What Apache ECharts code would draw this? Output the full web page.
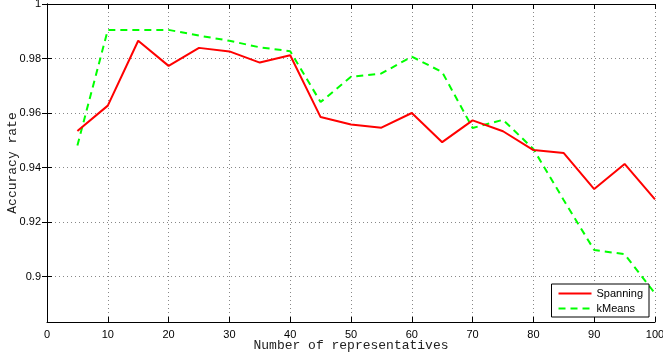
<!DOCTYPE html>
<html>
<head>
<meta charset="utf-8">
<script src="https://cdn.jsdelivr.net/npm/echarts@6/dist/echarts.min.js"></script>
<style>html,body{margin:0;padding:0;background:#fff}#c{width:663px;height:360px}</style>
</head>
<body>
<div id="c"></div>
<script>
var representatives = [5,10,15,20,25,30,35,40,45,50,55,60,65,70,75,80,85,90,95,100];
var spanning = [0.9534,0.9627,0.9865,0.9773,0.9839,0.9826,0.9785,0.9812,0.9585,0.9558,0.9546,0.9600,0.9493,0.9573,0.9533,0.9464,0.9453,0.9321,0.9413,0.9283];
var kmeans = [0.9481,0.9905,0.9905,0.9905,0.9884,0.9865,0.9841,0.9827,0.9640,0.9733,0.9745,0.9807,0.9750,0.9545,0.9575,0.9468,0.9280,0.9097,0.9082,0.8938];
var yTicks = [0.9,0.92,0.94,0.96,0.98,1];
var seriesNames = ['Spanning','kMeans'];

function pairs(xs, ys){ return xs.map(function(x,i){ return [x, ys[i]]; }); }

var chart = echarts.init(document.getElementById('c'), null, {renderer:'canvas'});
var axisLineStyle = {color:'#000', width:1};
var tickFont = {color:'#000', fontSize:11, fontFamily:'Liberation Sans, Arial, sans-serif'};
var nameFont = {color:'#222', fontSize:13, fontFamily:'Liberation Mono, Courier New, monospace'};
var option = {
  animation:false,
  backgroundColor:'#fff',
  grid:{left:47, right:8, top:4, bottom:38, containLabel:false, outerBoundsMode:'none'},
  xAxis:[{
    type:'value', min:0, max:100, interval:10, position:'bottom',
    name:'Number of representatives', nameLocation:'middle', nameGap:17, nameMoveOverlap:false,
    nameTextStyle:nameFont,
    axisLine:{show:true, lineStyle:axisLineStyle},
    axisTick:{show:true, inside:true, length:5, lineStyle:axisLineStyle},
    axisLabel:Object.assign({margin:7}, tickFont),
    splitLine:{show:true, lineStyle:{color:'#888', type:[1,3], width:1}}
  },{
    type:'value', min:0, max:100, interval:10, position:'top',
    axisLine:{show:true, lineStyle:axisLineStyle},
    axisTick:{show:true, inside:true, length:5, lineStyle:axisLineStyle},
    axisLabel:{show:false}, splitLine:{show:false}
  }],
  yAxis:[{
    type:'value', min:0.8833, max:1, position:'left',
    name:'Accuracy rate', nameLocation:'middle', nameGap:28, nameRotate:90, nameMoveOverlap:false,
    nameTextStyle:nameFont,
    axisLine:{show:true, lineStyle:axisLineStyle},
    axisTick:{show:true, inside:true, length:5, lineStyle:axisLineStyle, customValues:yTicks},
    axisLabel:Object.assign({margin:6, customValues:yTicks}, tickFont),
    splitLine:{show:true, lineStyle:{color:'#888', type:[1,3], width:1}}
  },{
    type:'value', min:0.8833, max:1, position:'right',
    axisLine:{show:true, lineStyle:axisLineStyle},
    axisTick:{show:true, inside:true, length:5, lineStyle:axisLineStyle, customValues:yTicks},
    axisLabel:{show:false, customValues:yTicks}, splitLine:{show:false}
  }],
  legend:{
    show:true, orient:'vertical', right:14, bottom:43,
    backgroundColor:'#fff', borderColor:'#000', borderWidth:1, borderRadius:0,
    padding:[4,6,3,6], itemGap:4, itemWidth:33, itemHeight:10,
    itemStyle:{opacity:0},
    textStyle:{color:'#000', fontSize:11, fontFamily:'Liberation Sans, Arial, sans-serif'},
    data:seriesNames
  },
  series:[{
    name:seriesNames[0], type:'line', data:pairs(representatives, spanning),
    symbol:'none', lineStyle:{color:'#ff0000', width:2}, itemStyle:{color:'#ff0000'}, z:3
  },{
    name:seriesNames[1], type:'line', data:pairs(representatives, kmeans),
    symbol:'none', lineStyle:{color:'#00ff00', width:2, type:[7,5]}, itemStyle:{color:'#00ff00'}, z:2
  }]
};
chart.setOption(option);
</script>
</body>
</html>
